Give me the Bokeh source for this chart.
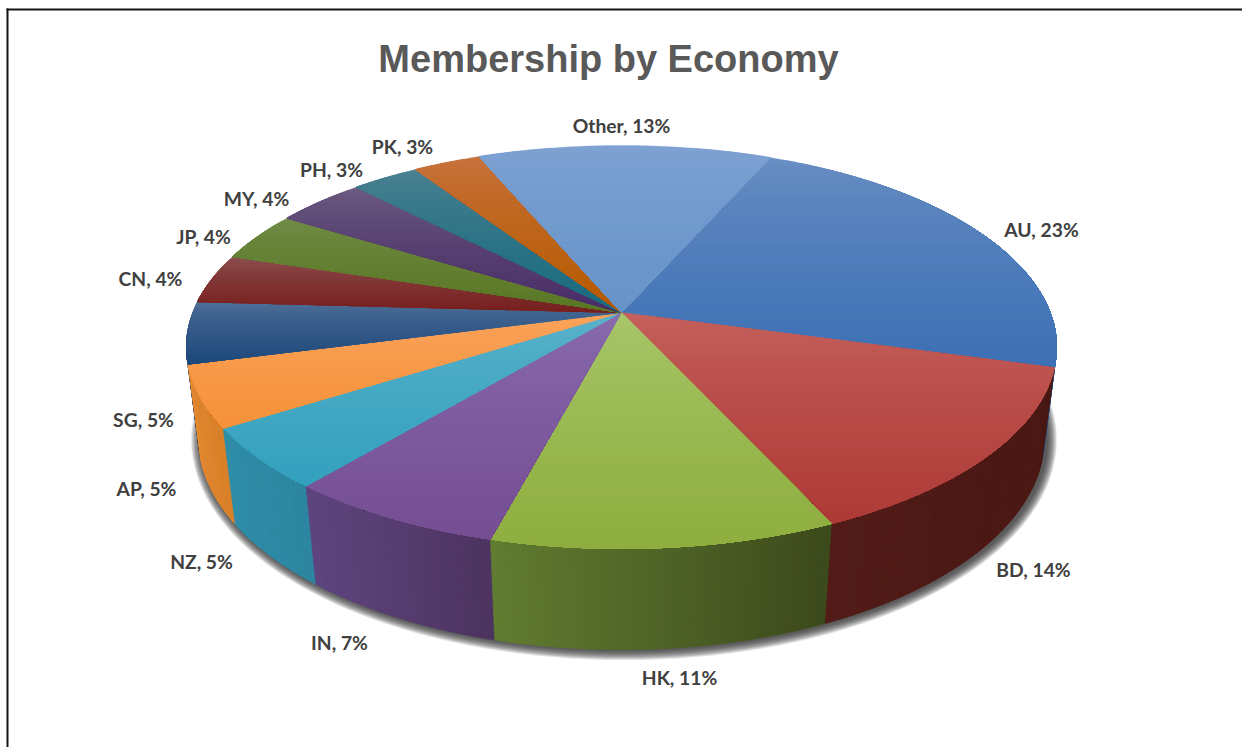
import math

from bokeh.core.properties import value
from bokeh.embed import file_html
from bokeh.plotting import figure
from bokeh.resources import INLINE

W, H = 1242, 747

title = "Membership by Economy"
economies = ["AU", "BD", "HK", "IN", "NZ", "AP", "SG", "CN", "JP", "MY", "PH", "PK", "Other"]
shares = [23, 14, 11, 7, 5, 5, 5, 4, 4, 4, 3, 3, 13]

# Face shading: lighter at the upper end of each slice, settling to the base colour
face_light = ["#6a8fc4", "#c6625e", "#a9c76c", "#8a6caf", "#5cb3ca", "#faa45c", "#4f6f98",
              "#8d4f50", "#708c47", "#6c5c82", "#4b8192", "#c9733f", "#7fa2d3"]
face_base = ["#3c70b4", "#ae3a36", "#8eae3f", "#754e92", "#33a0be", "#f6913a", "#1d487b",
             "#771f1d", "#5a7724", "#492d66", "#186a7e", "#b65a00", "#6794c9"]
# Outer wall shading, left to right
wall_left = ["#2c5a94", "#521b17", "#617d30", "#5f4580", "#2f8fab", "#e88c31", "#17375e",
             "#5c1715", "#465a1b", "#37224d", "#12505f", "#8a4400", "#4a6f9e"]
wall_right = ["#24497a", "#4a1713", "#3c491b", "#4d3360", "#2c86a1", "#dc8228", "#17375e",
              "#5c1715", "#465a1b", "#37224d", "#12505f", "#8a4400", "#4a6f9e"]

# Label anchors, centre of each text
label_xy = [(1041, 229), (1033, 569), (679, 677), (339, 642), (201, 561), (146, 488), (143, 419),
            (150, 278), (203, 236), (256, 198), (331, 169), (402, 146), (621, 125)]

# Perspective model of the disc
CX, CY = 621.0, 312.0
FX, FY = 428.6, 195.6
TILT = 0.171
DEPTH_Y, DEPTH_W = 93.4, 0.028
START_DEG = 23.7


def project(theta_deg, z=0.0):
    """Screen position of the rim at a clockwise angle from the far side; z=1 is the base."""
    t = math.radians(theta_deg)
    u, v = math.sin(t), -math.cos(t)
    w = 1 - TILT * v + DEPTH_W * z
    return CX + FX * u / w, CY + (FY * v + DEPTH_Y * z) / w


def hex_rgb(c):
    return tuple(int(c[i:i + 2], 16) for i in (1, 3, 5))


def mix(a, b, t):
    t = max(0.0, min(1.0, t))
    ra, rb = hex_rgb(a), hex_rgb(b)
    return "#%02x%02x%02x" % tuple(round(x + (y - x) * t) for x, y in zip(ra, rb))


def clip_below(poly, y0):
    """Part of a convex polygon with y >= y0."""
    out = []
    for i, (x1, y1) in enumerate(poly):
        x2, y2 = poly[(i + 1) % len(poly)]
        if y1 >= y0:
            out.append((x1, y1))
        if (y1 >= y0) != (y2 >= y0):
            s = (y0 - y1) / (y2 - y1)
            out.append((x1 + (x2 - x1) * s, y0))
    return out


total = sum(shares)
edges = [START_DEG]
for s in shares:
    edges.append(edges[-1] + 360.0 * s / total)

p = figure(width=W, height=H, x_range=(0, W), y_range=(H, 0), output_backend="svg",
           toolbar_location=None, min_border=0, background_fill_color="white",
           border_fill_color="white", outline_line_color=None)
p.axis.visible = False
p.grid.visible = False

# Frame along the top and left
p.segment([6, 7], [9, 8], [W, 7], [9, H], line_color="#141414", line_width=2)

# Soft drop shadow under the base ring, falling slightly to the right
ring = [project(a, 1.0) for a in range(0, 360, 2)]
base_mid = 0.5 * (max(y for _, y in ring) + min(y for _, y in ring))
for grow in range(9, -1, -1):
    xs = [CX + 2.5 + (x - CX) * (1 + (grow + 1) / 425.0) for x, _ in ring]
    ys = [base_mid + (y - base_mid) * (1 + grow / 215.0) + 1.5 for _, y in ring]
    p.patch(xs, ys, fill_color="#333333", fill_alpha=0.14, line_color=None)

# Outer walls, far segments first so the near ones overlap them
wall_segments = []
for k in range(len(shares)):
    a0, a1 = edges[k], edges[k + 1]
    n = max(2, int((a1 - a0) / 0.75))
    visible_x = [project(a0 + (a1 - a0) * j / n)[0] for j in range(n + 1)]
    lo, hi = min(visible_x), max(visible_x)
    for j in range(n):
        b0 = a0 + (a1 - a0) * j / n
        b1 = a0 + (a1 - a0) * (j + 1) / n
        mid = math.radians((b0 + b1) / 2)
        if -math.cos(mid) < -0.1:
            continue
        pts = [project(b0), project(b1), project(b1, 1.0), project(b0, 1.0)]
        xmid = sum(q[0] for q in pts) / 4
        colour = mix(wall_left[k], wall_right[k], (xmid - lo) / max(hi - lo, 1))
        wall_segments.append((-math.cos(mid), [q[0] for q in pts], [q[1] for q in pts], colour))
wall_segments.sort(key=lambda seg: seg[0])
p.patches([s[1] for s in wall_segments], [s[2] for s in wall_segments],
          fill_color=[s[3] for s in wall_segments], line_color=[s[3] for s in wall_segments],
          line_width=0.6)

# Top face: each slice is overpainted by progressively smaller, darker parts
STEP = 3.0
face_xs, face_ys, face_cols = [], [], []
for k in range(len(shares)):
    a0, a1 = edges[k], edges[k + 1]
    n = max(4, int((a1 - a0) / 0.5))
    poly = [(CX, CY)] + [project(a0 + (a1 - a0) * j / n) for j in range(n + 1)]
    ymin = min(q[1] for q in poly)
    ymax = max(q[1] for q in poly)
    y = ymin
    while y < ymax:
        part = clip_below(poly, y)
        if len(part) >= 3:
            t = (y - ymin) / (ymax - ymin)
            col = mix(face_light[k], face_base[k], t ** 0.75)
            face_xs.append([q[0] for q in part])
            face_ys.append([q[1] for q in part])
            face_cols.append(col)
        y += STEP
p.patches(face_xs, face_ys, fill_color=face_cols, line_color=face_cols, line_width=0.35)

# Title and data labels
p.text([608], [58], text=[title], text_font=value("Liberation Sans"), text_font_style="bold",
       text_font_size="38px", text_color="#595959", text_align="center", text_baseline="middle")
p.text([q[0] for q in label_xy], [q[1] for q in label_xy],
       text=[f"{name}, {s}%" for name, s in zip(economies, shares)],
       text_font=value("Lato"), text_font_style="bold", text_font_size="19.3px",
       text_color="#404040", text_align="center", text_baseline="middle")

open("out.html", "w").write(file_html(p, INLINE))
